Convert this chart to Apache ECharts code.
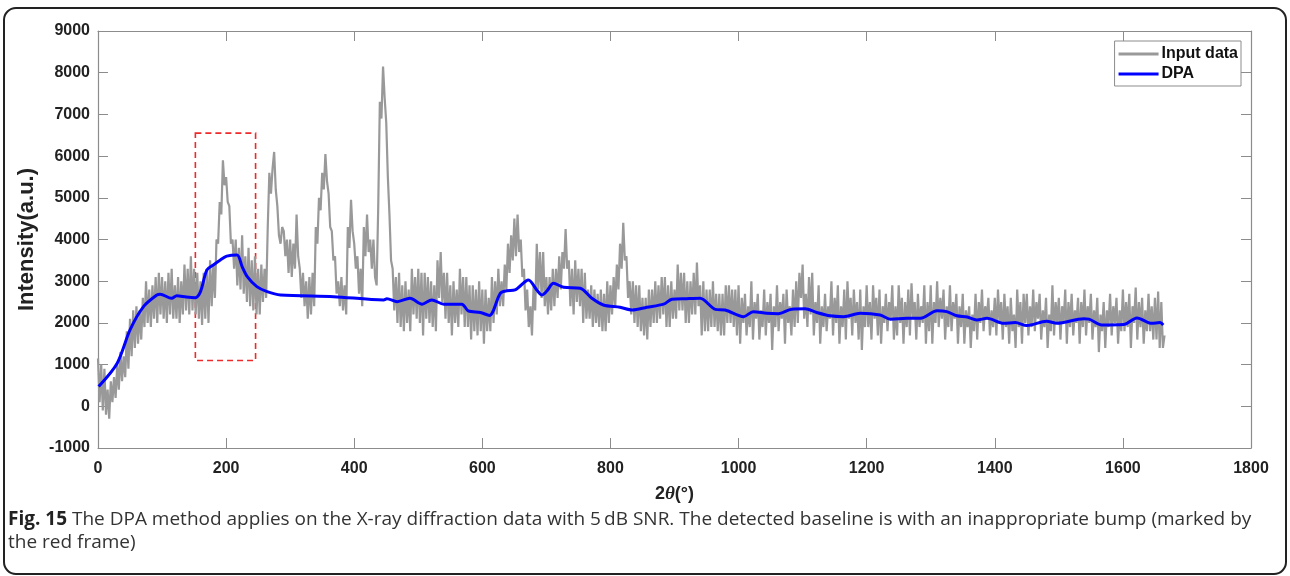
<!DOCTYPE html>
<html>
<head>
<meta charset="utf-8">
<script src="https://cdn.jsdelivr.net/npm/echarts@6/dist/echarts.min.js"></script>
<style>
html,body{margin:0;padding:0;background:#fff;}
#chart{width:1290px;height:576px;}
</style>
</head>
<body>
<div id="chart"></div>
<script>
// ---- data ----
const xTicks = [0, 200, 400, 600, 800, 1000, 1200, 1400, 1600, 1800];
const yTicks = [-1000, 0, 1000, 2000, 3000, 4000, 5000, 6000, 7000, 8000, 9000];
const seriesNames = ['Input data', 'DPA'];

// Input data: sampled every 2.5 units of 2θ, starting at 0
const inputStart = 0;
const inputStep = 2.5;
const inputValues = [
 1150, 100, 1000, -100, 900, -200, 400, -300, 600, 100, 700, 200, 1000, 400, 1300, 600, 1200, 700, 1800, 900,
 2100, 1200, 2300, 1400, 2400, 1500, 2300, 1600, 2600, 1900, 3000, 2000, 2800, 1900, 2900, 2100, 3100, 2000, 3200, 2200,
 3100, 2100, 3000, 2000, 3200, 2200, 3300, 2100, 2900, 2100, 3100, 2000, 3000, 2200, 3400, 2300, 3300, 2200, 3600, 2300,
 3300, 2200, 3200, 2100, 3000, 1950, 3200, 2100, 3300, 2000, 3500, 2400, 3400, 2600, 4000, 3900, 4900, 4600, 5900, 5300,
 5500, 4900, 4800, 3900, 4000, 3300, 4000, 2900, 3800, 2800, 4100, 2700, 3600, 2500, 3800, 2400, 3500, 2300, 3600, 2200,
 3300, 2200, 3400, 2500, 3300, 2600, 4300, 5600, 5100, 5700, 6100, 5200, 4800, 4100, 3900, 4300, 4200, 3600, 4000, 3200,
 4000, 3100, 3900, 3300, 4600, 3600, 3300, 2600, 3200, 2400, 3000, 2100, 3100, 2200, 3200, 2400, 4300, 3900, 5000, 4700,
 5600, 5200, 6050, 5400, 5100, 4300, 4200, 3500, 3600, 2700, 3000, 2400, 3100, 2300, 2900, 2200, 4300, 3800, 4950, 4200,
 3900, 3300, 3600, 2700, 3300, 2400, 4300, 3600, 4600, 3700, 4000, 3300, 4000, 3100, 2900, 4800, 7300, 6900, 8150, 7400,
 6800, 5500, 4600, 3500, 3300, 2300, 3100, 2000, 3200, 1900, 2900, 1800, 3000, 2000, 2800, 1800, 3300, 2200, 3100, 2100,
 3300, 2000, 3200, 1700, 3200, 2100, 3100, 2000, 3000, 1900, 2900, 1800, 3500, 2600, 3700, 2500, 3200, 2100, 3200, 2000,
 2900, 1700, 3000, 2000, 2800, 1900, 3300, 2200, 3100, 1900, 3100, 1900, 2900, 1600, 2900, 1800, 2800, 1700, 3000, 1800,
 2800, 1500, 2800, 1800, 2600, 1800, 3100, 2000, 3000, 2200, 3300, 2400, 3000, 2400, 3400, 2800, 3900, 3200, 4100, 3500,
 4500, 3600, 4600, 3700, 4000, 3100, 3300, 2300, 2800, 1900, 2400, 1700, 2900, 2300, 3900, 2800, 3700, 2600, 3700, 2400,
 3100, 2200, 3100, 2300, 3300, 2400, 3300, 2600, 3600, 2800, 3700, 3300, 4250, 3300, 3500, 2400, 3300, 2200, 3500, 2500,
 3300, 2400, 3300, 2000, 3200, 2100, 2800, 2100, 2900, 1900, 2800, 2000, 2700, 1900, 2800, 1800, 2700, 1800, 3000, 2000,
 2900, 2200, 3100, 2400, 3400, 2800, 3900, 3300, 4400, 3500, 3600, 2600, 3000, 2200, 3000, 2000, 2900, 1900, 2900, 1800,
 2600, 1700, 2600, 1600, 2800, 1900, 2800, 2000, 3000, 2000, 2900, 2100, 3100, 2200, 3100, 1900, 2900, 1900, 3000, 2100,
 2800, 2100, 3400, 2300, 3200, 2300, 3200, 2000, 3000, 2000, 3000, 2200, 3200, 2200, 3450, 2400, 2900, 1700, 3000, 1800,
 2800, 1800, 2800, 1900, 3000, 1900, 2700, 1800, 2700, 1700, 2700, 1700, 2900, 2000, 2900, 2000, 2800, 1900, 2800, 1700,
 2900, 1500, 2600, 2000, 2700, 1700, 2400, 1900, 3000, 1600, 2500, 2100, 2700, 1600, 2300, 1900, 2800, 1700, 2500, 2000,
 2700, 1350, 2400, 1900, 2900, 1800, 2500, 2100, 2700, 1500, 2800, 2000, 2400, 1700, 2800, 1900, 3000, 2000, 3200, 2600,
 3400, 2100, 2700, 1900, 3100, 2200, 3200, 1700, 2500, 2000, 2900, 1500, 2400, 1900, 2700, 1800, 2400, 2100, 3000, 1700,
 2600, 2000, 2900, 1500, 2400, 1900, 2800, 1600, 3000, 2100, 2600, 1700, 2800, 2000, 2500, 1600, 2800, 1350, 2400, 1900,
 2900, 1900, 2500, 1600, 2900, 2100, 2600, 1700, 2800, 1500, 2400, 2000, 2700, 1800, 2500, 2100, 2900, 1600, 2400, 1700,
 2900, 2000, 2600, 1500, 2500, 1900, 2800, 1700, 2950, 2100, 2500, 1600, 2700, 1900, 2400, 2000, 2900, 1500, 2500, 1800,
 2900, 1500, 2500, 2000, 3000, 1900, 2600, 2100, 2800, 1600, 2400, 1900, 2900, 1800, 2500, 2100, 2700, 1500, 2400, 1900,
 2700, 1500, 2300, 1900, 2400, 1400, 2200, 1800, 2700, 1600, 2500, 2000, 2800, 1800, 2400, 2100, 2600, 1700, 2300, 1900,
 2600, 1700, 2800, 2000, 2500, 1600, 2700, 1900, 2400, 1500, 2600, 1800, 2200, 1400, 2800, 1900, 2500, 1500, 2700, 2000,
 2700, 1700, 2400, 1900, 2800, 1800, 2500, 2100, 2700, 1600, 2300, 1900, 2600, 1400, 2200, 1800, 2900, 1700, 2500, 2000,
 2600, 1600, 2400, 2000, 2800, 1500, 2500, 1900, 2700, 1700, 2300, 2000, 2600, 1500, 2500, 1900, 2800, 1700, 2400, 2000,
 2700, 1600, 2300, 1900, 2600, 1300, 2200, 1800, 2500, 1400, 2300, 1900, 2700, 1700, 2400, 2000, 2600, 1500, 2300, 1800,
 2800, 1800, 2500, 1900, 2700, 1400, 2400, 2000, 2850, 1600, 2500, 1900, 2600, 1500, 2300, 1800, 2700, 1800, 2400, 1600,
 2600, 1600, 2750, 1400, 2500, 1400, 1700
];

// DPA baseline: [2θ, intensity]
const dpaX = [1, 30, 50, 71, 92, 97, 115, 123, 138, 152, 160, 170, 180, 191, 201, 217, 225, 233, 248, 264, 285, 368, 446, 451, 467, 487, 506, 521, 540, 568, 578, 597, 611, 628, 638, 651, 672, 685, 693, 701, 711, 727, 753, 771, 789, 815, 834, 857, 883, 896, 919, 940, 964, 979, 1008, 1023, 1044, 1062, 1083, 1104, 1122, 1143, 1164, 1190, 1221, 1237, 1263, 1284, 1310, 1325, 1341, 1357, 1372, 1388, 1414, 1432, 1450, 1481, 1497, 1539, 1547, 1567, 1601, 1622, 1645, 1658, 1663];
const dpaY = [474, 1034, 1832, 2390, 2670, 2690, 2590, 2650, 2620, 2605, 2750, 3270, 3390, 3510, 3600, 3630, 3350, 3110, 2870, 2750, 2670, 2630, 2550, 2580, 2510, 2590, 2450, 2550, 2450, 2450, 2290, 2250, 2180, 2710, 2770, 2790, 3030, 2790, 2670, 2770, 2950, 2855, 2830, 2590, 2430, 2375, 2310, 2375, 2450, 2565, 2580, 2590, 2325, 2310, 2150, 2270, 2230, 2220, 2330, 2340, 2250, 2170, 2150, 2230, 2190, 2090, 2110, 2110, 2290, 2270, 2170, 2140, 2070, 2110, 1990, 2010, 1935, 2040, 1990, 2100, 2090, 1950, 1960, 2120, 1990, 2010, 1950];

// red dashed frame marking the bump
const frameX = [152, 246];
const frameY = [1100, 6550];

const captionBold = 'Fig. 15';
const captionLine1 = ' The DPA method applies on the X-ray diffraction data with 5\u2009dB SNR. The detected baseline is with an inappropriate bump (marked by';
const captionLine2 = 'the red frame)';

// ---- build ----
const inputData = inputValues.map((v, i) => [inputStart + i * inputStep, v]);
const dpaData = dpaX.map((x, i) => [x, dpaY[i]]);

const axisColor = '#8c8c8c';
const sansBold = 'Arial, "Liberation Sans", sans-serif';
const labelStyle = { fontFamily: sansBold, fontWeight: 'bold', fontSize: 16, color: '#222', formatter: v => String(v) };

const chart = echarts.init(document.getElementById('chart'), null, { renderer: 'canvas' });
chart.setOption({
  animation: false,
  backgroundColor: '#fff',
  grid: { left: 98, right: 39, top: 31, bottom: 128, containLabel: false },
  legend: {
    orient: 'vertical',
    right: 49,
    top: 41,
    backgroundColor: '#fff',
    borderColor: '#8c8c8c',
    borderWidth: 1,
    borderRadius: 0,
    padding: [5, 3, 4, 4],
    itemGap: 4,
    itemWidth: 40,
    itemHeight: 3,
    icon: 'rect',
    textStyle: { fontFamily: sansBold, fontWeight: 'bold', fontSize: 16, color: '#111', padding: [0, 0, 0, -2] },
    data: seriesNames
  },
  xAxis: [{
    type: 'value', min: xTicks[0], max: xTicks[xTicks.length - 1], interval: xTicks[1] - xTicks[0],
    position: 'bottom',
    name: '{b|2}{i|θ}{b|(°)}',
    nameLocation: 'middle', nameGap: 37,
    nameTextStyle: { rich: {
      b: { fontFamily: sansBold, fontWeight: 'bold', fontSize: 18, color: '#222' },
      i: { fontFamily: '"Liberation Serif", "Times New Roman", serif', fontStyle: 'italic', fontWeight: 'bold', fontSize: 19, color: '#222' }
    } },
    splitLine: { show: false },
    axisLine: { onZero: false, lineStyle: { color: axisColor, width: 1.2 } },
    axisTick: { inside: true, length: 10, lineStyle: { color: axisColor } },
    axisLabel: Object.assign({ margin: 13 }, labelStyle)
  }, {
    type: 'value', min: xTicks[0], max: xTicks[xTicks.length - 1], interval: xTicks[1] - xTicks[0],
    position: 'top',
    splitLine: { show: false },
    axisLine: { onZero: false, lineStyle: { color: axisColor, width: 1.2 } },
    axisTick: { inside: true, length: 10, lineStyle: { color: axisColor } },
    axisLabel: { show: false }
  }],
  yAxis: [{
    type: 'value', min: yTicks[0], max: yTicks[yTicks.length - 1], interval: yTicks[1] - yTicks[0],
    position: 'left',
    name: 'Intensity(a.u.)',
    nameLocation: 'middle', nameGap: 52,
    nameTextStyle: { fontFamily: sansBold, fontWeight: 'bold', fontSize: 22, color: '#222' },
    splitLine: { show: false },
    axisLine: { show: true, onZero: false, lineStyle: { color: axisColor, width: 1.2 } },
    axisTick: { show: true, inside: true, length: 10, lineStyle: { color: axisColor } },
    axisLabel: Object.assign({ margin: 8 }, labelStyle)
  }, {
    type: 'value', min: yTicks[0], max: yTicks[yTicks.length - 1], interval: yTicks[1] - yTicks[0],
    position: 'right',
    splitLine: { show: false },
    axisLine: { show: true, onZero: false, lineStyle: { color: axisColor, width: 1.2 } },
    axisTick: { show: true, inside: true, length: 10, lineStyle: { color: axisColor } },
    axisLabel: { show: false }
  }],
  series: [{
    name: seriesNames[0],
    type: 'line',
    data: inputData,
    showSymbol: false,
    symbol: 'none',
    lineStyle: { color: '#999999', width: 2.2 },
    itemStyle: { color: '#999999' },
    markArea: {
      silent: true,
      itemStyle: { color: 'rgba(0,0,0,0)', borderColor: '#ee2a2a', borderWidth: 1.6, borderType: [6, 4] },
      data: [[{ coord: [frameX[0], frameY[1]] }, { coord: [frameX[1], frameY[0]] }]]
    },
    z: 2
  }, {
    name: seriesNames[1],
    type: 'line',
    data: dpaData,
    showSymbol: false,
    symbol: 'none',
    smooth: 0.3,
    lineStyle: { color: '#0000ff', width: 3 },
    itemStyle: { color: '#0000ff' },
    z: 3
  }],
  graphic: [{
    type: 'rect',
    shape: { x: 4, y: 8, width: 1282, height: 566, r: 12 },
    style: { fill: 'none', stroke: '#222', lineWidth: 2 },
    silent: true, z: 0
  }, {
    type: 'text',
    left: 8, top: 510,
    style: {
      text: '{b|' + captionBold + '}{n|' + captionLine1 + '}\n{n|' + captionLine2 + '}',
      rich: {
        b: { fontFamily: '"Open Sans", sans-serif', fontWeight: 'bold', fontSize: 19, fill: '#222', lineHeight: 23 },
        n: { fontFamily: '"Open Sans", sans-serif', fontSize: 19, fill: '#333', lineHeight: 23 }
      }
    },
    silent: true
  }]
});
</script>
</body>
</html>
